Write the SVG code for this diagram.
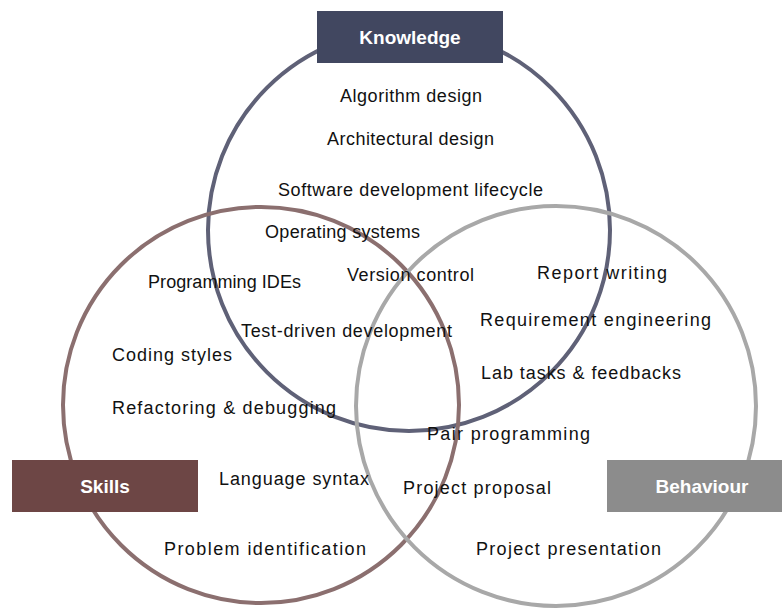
<svg xmlns="http://www.w3.org/2000/svg" width="782" height="610" viewBox="0 0 782 610">
<style>
.ring{fill:none;stroke-width:4}
.t{font-family:"Liberation Sans",Arial,sans-serif;font-size:18px;fill:#111}
.h{font-family:"Liberation Sans",Arial,sans-serif;font-size:19px;font-weight:bold;fill:#fff;text-anchor:middle}
</style>
<rect width="782" height="610" fill="#fff"/>
<g id="circles">
<circle id="knowledge-circle" class="ring" cx="409" cy="230" r="201" stroke="#5F6177"/>
<circle id="skills-circle" class="ring" cx="261" cy="405" r="198" stroke="#8B6F6F"/>
<circle id="behaviour-circle" class="ring" cx="556" cy="406" r="200" stroke="#A8A8A8"/>
</g>
<g id="knowledge">
<rect x="317" y="11" width="186" height="52" fill="#414760"/>
<text class="h" x="410" y="44">Knowledge</text>
</g>
<g id="skills">
<rect x="12" y="460" width="186" height="52" fill="#6D4645"/>
<text class="h" x="105" y="493">Skills</text>
</g>
<g id="behaviour">
<rect x="607" y="460" width="175" height="52" fill="#8C8C8C"/>
<text class="h" x="702" y="493">Behaviour</text>
</g>
<g id="items">
<text class="t" x="340" y="102" textLength="142">Algorithm design</text>
<text class="t" x="327" y="145" textLength="167">Architectural design</text>
<text class="t" x="278" y="196" textLength="265">Software development lifecycle</text>
<text class="t" x="265" y="238" textLength="155">Operating systems</text>
<text class="t" x="148" y="288" textLength="153">Programming IDEs</text>
<text class="t" x="347" y="281" textLength="127">Version control</text>
<text class="t" x="537" y="279" textLength="130">Report writing</text>
<text class="t" x="241" y="337" textLength="211">Test-driven development</text>
<text class="t" x="480" y="326" textLength="231">Requirement engineering</text>
<text class="t" x="112" y="361" textLength="120">Coding styles</text>
<text class="t" x="481" y="379" textLength="200">Lab tasks &amp; feedbacks</text>
<text class="t" x="112" y="414" textLength="224">Refactoring &amp; debugging</text>
<text class="t" x="427" y="440" textLength="163">Pair programming</text>
<text class="t" x="219" y="485" textLength="150">Language syntax</text>
<text class="t" x="403" y="494" textLength="148">Project proposal</text>
<text class="t" x="164" y="555" textLength="202">Problem identification</text>
<text class="t" x="476" y="555" textLength="185">Project presentation</text>
</g>
</svg>
